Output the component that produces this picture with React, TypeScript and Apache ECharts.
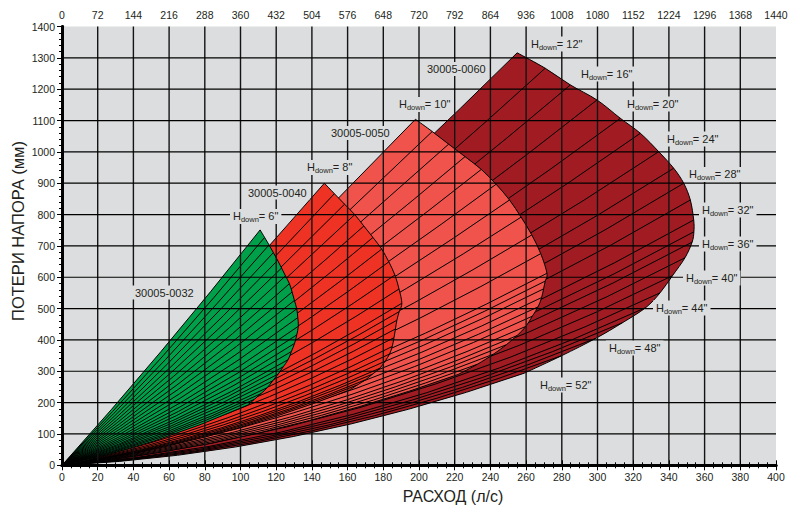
import React, { useEffect, useRef } from "react";
import * as echarts from "echarts";

// Axis ranges
const FLOW_MAX = 400;
const FLOW_STEP = 20;
const M3H_MAX = 1440;
const M3H_STEP = 72;
const HEAD_MAX = 1400;
const HEAD_STEP = 100;

// Each line: [H_down (inch), flow at end (l/s), head at end (mm), head at half of end flow (mm)]
const LINES_0060 = [
  [12, 255, 1316, 628.7],
  [14, 270.7, 1266.8, 598.6],
  [16, 284.8, 1213.5, 566.2],
  [18, 299.7, 1165.6, 535.6],
  [20, 312.8, 1107, 499.7],
  [22, 324, 1059.3, 469.3],
  [24, 334.3, 1000.6, 433.2],
  [26, 342.7, 947.7, 400.5],
  [28, 348.3, 899.8, 371],
  [30, 352, 846.5, 339.7],
  [32, 353.9, 782.7, 303.7],
  [34, 354, 745, 281.6],
  [36, 353, 712, 262.5],
  [38, 349, 662, 236.6],
  [40, 342, 605, 208.9],
  [42, 335, 550, 185.2],
  [44, 327, 503, 163.3],
  [46, 314, 455, 146.2],
  [48, 299, 405, 128.7],
  [50, 280, 350, 110.3],
  [52, 259, 294, 91.7],
];

const LINES_0050 = [
  [10, 198, 1104, 535.3],
  [12, 207.4, 1065, 513.1],
  [14, 216.6, 1024.6, 490],
  [16, 225.8, 984.8, 466.9],
  [18, 234.9, 944, 443],
  [20, 243.2, 896.7, 415.9],
  [22, 250.7, 846.5, 387.2],
  [24, 257.2, 791.8, 356.2],
  [26, 263.2, 735, 324.2],
  [28, 268.2, 675.4, 290.9],
  [30, 271.7, 612.6, 256.5],
  [32, 270.7, 587.7, 242.6],
  [34, 269.8, 562.9, 228.7],
  [36, 268.7, 535.2, 213.4],
  [38, 266.7, 505.4, 197.6],
  [40, 263.5, 475.7, 182.4],
  [42, 259.9, 443.3, 167.7],
  [44, 254.9, 413.7, 153.3],
  [46, 248.9, 384.6, 141.2],
  [48, 241.7, 354.5, 129.1],
  [50, 232.7, 322.4, 116.5],
  [52, 222, 290, 104.3],
];

const LINES_0040 = [
  [8, 147, 900, 433.8],
  [10, 152.6, 866.5, 415.3],
  [12, 158.3, 833.1, 396.6],
  [14, 164, 799.8, 377.7],
  [16, 169.1, 763.5, 357.5],
  [18, 174.2, 727, 336.9],
  [20, 179.1, 689.8, 316],
  [22, 183.1, 649.1, 293.6],
  [24, 186.5, 607.1, 270.6],
  [26, 188.8, 562.5, 246.5],
  [28, 190.4, 517, 222.2],
  [30, 188.9, 490.2, 208.5],
  [32, 187.6, 462.8, 194.6],
  [34, 186.8, 435, 180.2],
  [36, 186, 407.1, 165.9],
  [38, 185, 379, 151],
  [40, 183.5, 355, 139.6],
  [42, 181, 332, 129.1],
  [44, 178, 309.4, 119.1],
  [46, 174, 291, 111.4],
  [48, 170, 272.8, 103.9],
  [50, 165.5, 256.4, 97.4],
  [52, 161, 240, 90.8],
];

const LINES_0032 = [
  [6, 111, 751, 363.2],
  [8, 113.5, 727, 350.3],
  [10, 116, 703.1, 337.5],
  [12, 118.4, 678.6, 324.2],
  [14, 120.8, 653.9, 310.9],
  [16, 123, 629.4, 297.7],
  [18, 125.2, 604.4, 284.2],
  [20, 127.4, 579.4, 270.6],
  [22, 128.9, 552.9, 256.5],
  [24, 130.2, 526, 242.2],
  [26, 131.5, 499.1, 227.9],
  [28, 132.1, 471.3, 213.5],
  [30, 132.4, 443.6, 199],
  [32, 131.5, 415.9, 185.1],
  [34, 130.3, 389, 171.6],
  [36, 128.5, 362.9, 158.8],
  [38, 126.7, 337.1, 146.1],
  [40, 123.9, 314.1, 135.2],
  [42, 121.1, 291, 124.2],
  [44, 118, 269.3, 114.2],
  [46, 115, 247.7, 104.1],
  [48, 111.4, 228.4, 95],
  [50, 107.7, 210.1, 86.8],
  [52, 104, 192, 78.4],
];

const MODEL_NAMES = ["30005-0060", "30005-0050", "30005-0040", "30005-0032"];
const H_DOWN_LABELS = ["6", "8", "10", "12", "16", "20", "24", "28", "32", "36", "40", "44", "48", "52"];

const FONT = '"Liberation Sans", Arial, sans-serif';
const TEXT_COLOR = "#231F20";
const PLOT_BG = "#DCDDDE";

const REGION_STYLES = [
  { lines: LINES_0060, fill: "#A01C22" },
  { lines: LINES_0050, fill: "#F0534B" },
  { lines: LINES_0040, fill: "#EE3224" },
  { lines: LINES_0032, fill: "#00A04B" },
];

// pixel layout of the annotations (left, vertical centre)
const MODEL_LABEL_POS = [
  [427, 69],
  [331, 133],
  [248, 192.5],
  [135, 292.5],
];
const H_LABEL_POS = [
  [233, 216],
  [307, 167],
  [399, 104],
  [531, 43.5],
  [581, 73.5],
  [627, 103.5],
  [667, 138.5],
  [689, 174],
  [702, 209.5],
  [702, 243.5],
  [686, 277.5],
  [656, 307.5],
  [609, 347.5],
  [540, 384.5],
];

function measure(text: string, size: number): number {
  const c = document.createElement("canvas").getContext("2d");
  if (!c) return text.length * size * 0.55;
  c.font = `${size}px ${FONT}`;
  return c.measureText(text).width;
}

function fmt(p: number[]) {
  return `${p[0].toFixed(2)},${p[1].toFixed(2)}`;
}

function regionElements(api: any, lines: number[][], fill: string, layer: number): any[] {
  const O = api.coord([0, 0]);
  const pts = lines.map((l) => ({
    e: api.coord([l[1], l[2]]),
    m: api.coord([l[1] / 2, l[3]]),
  }));
  const ctrl = (p: { e: number[]; m: number[] }) => [
    2 * p.m[0] - (O[0] + p.e[0]) / 2,
    2 * p.m[1] - (O[1] + p.e[1]) / 2,
  ];
  const first = pts[0];
  const last = pts[pts.length - 1];
  let d = `M${fmt(O)} Q${fmt(ctrl(first))} ${fmt(first.e)}`;
  const ends = pts.map((p) => p.e);
  for (let i = 0; i < ends.length - 1; i++) {
    const p0 = ends[Math.max(i - 1, 0)];
    const p1 = ends[i];
    const p2 = ends[i + 1];
    const p3 = ends[Math.min(i + 2, ends.length - 1)];
    const c1 = [p1[0] + (p2[0] - p0[0]) / 6, p1[1] + (p2[1] - p0[1]) / 6];
    const c2 = [p2[0] - (p3[0] - p1[0]) / 6, p2[1] - (p3[1] - p1[1]) / 6];
    d += ` C${fmt(c1)} ${fmt(c2)} ${fmt(p2)}`;
  }
  d += ` Q${fmt(ctrl(last))} ${fmt(O)} Z`;
  const out: any[] = [
    {
      type: "path",
      z2: layer * 2,
      shape: { pathData: d },
      style: { fill, stroke: "#000", lineWidth: 1 },
    },
  ];
  for (let i = 1; i < pts.length - 1; i++) {
    const p = pts[i];
    out.push({
      type: "path",
      z2: layer * 2 + 1,
      shape: { pathData: `M${fmt(O)} Q${fmt(ctrl(p))} ${fmt(p.e)}` },
      style: { fill: "none", stroke: "#000", lineWidth: 1 },
    });
  }
  return out;
}

function renderRegions(_params: any, api: any) {
  const children: any[] = [];
  REGION_STYLES.forEach((r, i) => children.push(...regionElements(api, r.lines, r.fill, i)));
  return { type: "group", children };
}

// grid lines at the axis ticks, positioned through the chart's own scales, above the regions
function gridGraphics(chart: any): any[] {
  const out: any[] = [];
  const px = (v: number[]) => chart.convertToPixel({ gridIndex: 0 }, v) as number[];
  for (let v = FLOW_STEP; v < FLOW_MAX; v += FLOW_STEP) {
    const a = px([v, 0]);
    const b = px([v, HEAD_MAX]);
    out.push({
      type: "line",
      z: 15,
      silent: true,
      shape: { x1: a[0], y1: a[1], x2: b[0], y2: b[1] },
      style: { stroke: "#141414", lineWidth: 1.4 },
    });
  }
  for (let v = HEAD_STEP; v < HEAD_MAX; v += HEAD_STEP) {
    const a = px([0, v]);
    const b = px([FLOW_MAX, v]);
    out.push({
      type: "line",
      z: 15,
      silent: true,
      shape: { x1: a[0], y1: a[1], x2: b[0], y2: b[1] },
      style: { stroke: "#000", lineWidth: 1.2 },
    });
  }
  return out;
}

function labelGraphics() {
  const els: any[] = [];
  MODEL_NAMES.forEach((name, i) => {
    const [x, cy] = MODEL_LABEL_POS[i];
    const w = measure(name, 11);
    els.push({
      type: "rect",
      z: 20,
      shape: { x: x - 3, y: cy - 7, width: w + 6, height: 14 },
      style: { fill: PLOT_BG },
    });
    els.push({
      type: "text",
      z: 21,
      x,
      y: cy,
      style: { text: name, fontSize: 11, fontFamily: FONT, fill: TEXT_COLOR, align: "left", verticalAlign: "middle" },
    });
  });
  H_DOWN_LABELS.forEach((v, i) => {
    const [x, cy] = H_LABEL_POS[i];
    const tail = `= ${v}"`;
    const wH = measure("H", 11);
    const wD = measure("down", 7.5);
    const wT = measure(tail, 11);
    els.push({
      type: "rect",
      z: 20,
      shape: { x: x - 3, y: cy - 7, width: wH + wD + wT + 6, height: 15 },
      style: { fill: PLOT_BG },
    });
    els.push({
      type: "text",
      z: 21,
      x,
      y: cy,
      style: { text: "H", fontSize: 11, fontFamily: FONT, fill: TEXT_COLOR, align: "left", verticalAlign: "middle" },
    });
    els.push({
      type: "text",
      z: 21,
      x: x + wH,
      y: cy + 3.5,
      style: { text: "down", fontSize: 7.5, fontFamily: FONT, fill: TEXT_COLOR, align: "left", verticalAlign: "middle" },
    });
    els.push({
      type: "text",
      z: 21,
      x: x + wH + wD,
      y: cy,
      style: { text: tail, fontSize: 11, fontFamily: FONT, fill: TEXT_COLOR, align: "left", verticalAlign: "middle" },
    });
  });
  els.push({
    type: "text",
    z: 21,
    x: 453,
    y: 496,
    style: { text: "РАСХОД (л/с)", fontSize: 16, fontFamily: FONT, fill: TEXT_COLOR, align: "center", verticalAlign: "middle" },
  });
  els.push({
    type: "text",
    z: 21,
    x: 18,
    y: 231,
    rotation: Math.PI / 2,
    style: { text: "ПОТЕРИ НАПОРА (мм)", fontSize: 16.5, fontFamily: FONT, fill: TEXT_COLOR, align: "center", verticalAlign: "middle" },
  });
  return els;
}

function buildOption(): any {
  const plain = (v: number) => String(v);
  const labelStyle = { fontSize: 10.5, fontFamily: FONT, color: TEXT_COLOR, formatter: plain };
  const frame = { show: true, lineStyle: { color: "#000", width: 3 } };
  const tick = { show: true, length: 5, lineStyle: { color: "#000", width: 1 } };
  const minor = (n: number) => ({ show: true, splitNumber: n, length: 3, lineStyle: { color: "#000", width: 1 } });
  return {
    animation: false,
    backgroundColor: "#fff",
    grid: {
      left: 62,
      right: 24,
      top: 26.5,
      bottom: 41.7,
      show: true,
      backgroundColor: PLOT_BG,
      borderWidth: 0,
    },
    xAxis: [
      {
        type: "value",
        position: "bottom",
        min: 0,
        max: FLOW_MAX,
        interval: FLOW_STEP,
        z: 25,
        axisLine: frame,
        axisTick: tick,
        minorTick: minor(4),
        axisLabel: { ...labelStyle, interval: 0, margin: 6 },
        splitLine: { show: false },
      },
      {
        type: "value",
        position: "top",
        min: 0,
        max: M3H_MAX,
        interval: M3H_STEP,
        z: 25,
        axisLine: frame,
        axisTick: tick,
        minorTick: minor(4),
        axisLabel: { ...labelStyle, interval: 0, margin: 6 },
        splitLine: { show: false },
      },
    ],
    yAxis: [
      {
        type: "value",
        position: "left",
        min: 0,
        max: HEAD_MAX,
        interval: HEAD_STEP,
        z: 25,
        axisLine: frame,
        axisTick: tick,
        minorTick: minor(5),
        axisLabel: { ...labelStyle, margin: 7 },
        splitLine: { show: false },
      },
      {
        type: "value",
        position: "right",
        min: 0,
        max: HEAD_MAX,
        interval: HEAD_STEP,
        z: 25,
        axisLine: frame,
        axisTick: { show: false },
        axisLabel: { show: false },
        splitLine: { show: false },
      },
    ],
    series: [
      {
        type: "custom",
        name: MODEL_NAMES.join(", "),
        coordinateSystem: "cartesian2d",
        xAxisIndex: 0,
        yAxisIndex: 0,
        z: 2,
        data: [[0, 0]],
        renderItem: renderRegions,
      },
    ],
  };
}

export default function App() {
  const ref = useRef<HTMLDivElement>(null);
  useEffect(() => {
    if (!ref.current) return;
    const chart = echarts.init(ref.current, null, { renderer: "svg" });
    chart.setOption(buildOption());
    chart.setOption({ graphic: { elements: [...gridGraphics(chart), ...labelGraphics()] } });
    return () => chart.dispose();
  }, []);
  return (
    <div
      ref={ref}
      style={{ position: "fixed", left: 0, top: 0, width: 800, height: 507, background: "#fff" }}
    />
  );
}
